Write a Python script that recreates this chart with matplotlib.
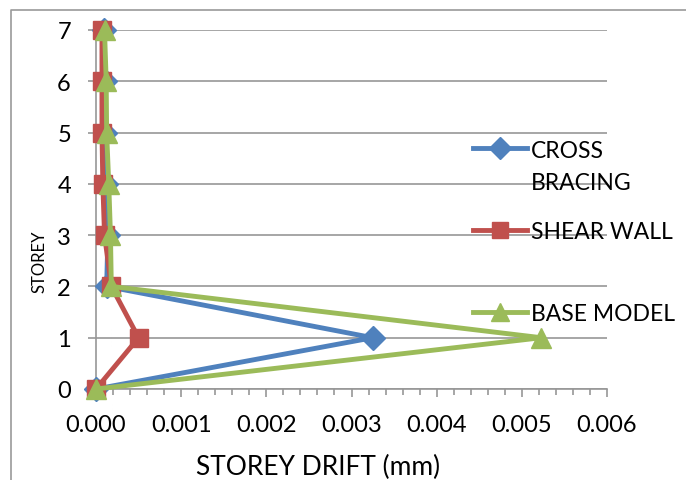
import matplotlib
matplotlib.use("Agg")
import matplotlib.pyplot as plt
from matplotlib.lines import Line2D
from matplotlib.ticker import MultipleLocator

plt.rcParams['font.family'] = ['Lato', 'DejaVu Sans']

storeys = [0, 1, 2, 3, 4, 5, 6, 7]
cross_bracing = [0.0, 0.00325, 0.000125, 0.00014, 0.00012, 0.00011, 0.0001, 0.00009]
shear_wall = [0.0, 0.0005, 0.00018, 0.0001, 0.00008, 0.00007, 0.00007, 0.00007]
base_model = [0.0, 0.00523, 0.00018, 0.00017, 0.00015, 0.000125, 0.00012, 0.0001]

series_labels = ["CROSS", "SHEAR WALL", "BASE MODEL"]
x_ticks = [0.000, 0.001, 0.002, 0.003, 0.004, 0.005, 0.006]
x_ticklabels = ["0.000", "0.001", "0.002", "0.003", "0.004", "0.005", "0.006"]
y_ticks = [0, 1, 2, 3, 4, 5, 6, 7]

BLUE = '#4F81BD'
RED = '#C0504D'
GREEN = '#9BBB59'
GRID = '#979797'

W, H = 686, 481
fig = plt.figure(figsize=(W / 100, H / 100), dpi=100)
ax = fig.add_axes([96 / W, 1 - 390 / H, (607 - 96) / W, (390 - 31) / H])

lw = 3.5
ax.plot(cross_bracing, storeys, color=BLUE, lw=lw, marker='D', ms=12, clip_on=False, zorder=3)
ax.plot(shear_wall, storeys, color=RED, lw=lw, marker='s', ms=13, clip_on=False, zorder=4)
ax.plot(base_model, storeys, color=GREEN, lw=lw, marker='^', ms=14, clip_on=False, zorder=5)

ax.set_xlim(0, 0.006)
ax.set_ylim(0, 7)
ax.set_xticks(x_ticks)
ax.set_xticklabels(x_ticklabels)
ax.xaxis.set_minor_locator(MultipleLocator(0.0002))
ax.set_yticks(y_ticks)

ax.yaxis.grid(True, color=GRID, lw=1.2)
ax.set_axisbelow(True)
for s in ['top', 'right']:
    ax.spines[s].set_visible(False)
for s in ['left', 'bottom']:
    ax.spines[s].set_color(GRID)
    ax.spines[s].set_linewidth(1.2)

ax.tick_params(axis='x', which='major', length=6, width=1.2, color=GRID, pad=12, labelsize=17)
ax.tick_params(axis='x', which='minor', length=4, width=1.2, color=GRID)
ax.tick_params(axis='y', which='major', length=6, width=1.2, color=GRID, pad=12, labelsize=17)

fig.text(318 / W, 1 - 467 / H, "STOREY DRIFT (mm)", ha='center', va='center', fontsize=19)
fig.text(39.5 / W, 1 - 262 / H, "STOREY", ha='center', va='center', rotation=90, fontsize=12)

handles = [
    Line2D([], [], color=BLUE, lw=lw, marker='D', ms=11),
    Line2D([], [], color=RED, lw=lw, marker='s', ms=12),
    Line2D([], [], color=GREEN, lw=lw, marker='^', ms=13),
]
fig.legend(handles, series_labels, loc='upper left', bbox_to_anchor=(473 / W, 1 - 140.5 / H),
           frameon=False, fontsize=16.5, handlelength=2.36, handletextpad=0.17,
           labelspacing=2.65, borderpad=0, borderaxespad=0)
fig.text(531 / W, 1 - 183 / H, "BRACING", ha='left', va='center', fontsize=16.5)

# chart border
fig.add_artist(Line2D([11 / W, 11 / W, 1], [0, 1 - 11 / H, 1 - 11 / H],
                      transform=fig.transFigure, color='#9a9a9a', lw=1.2))

fig.savefig("out.png", dpi=100)
